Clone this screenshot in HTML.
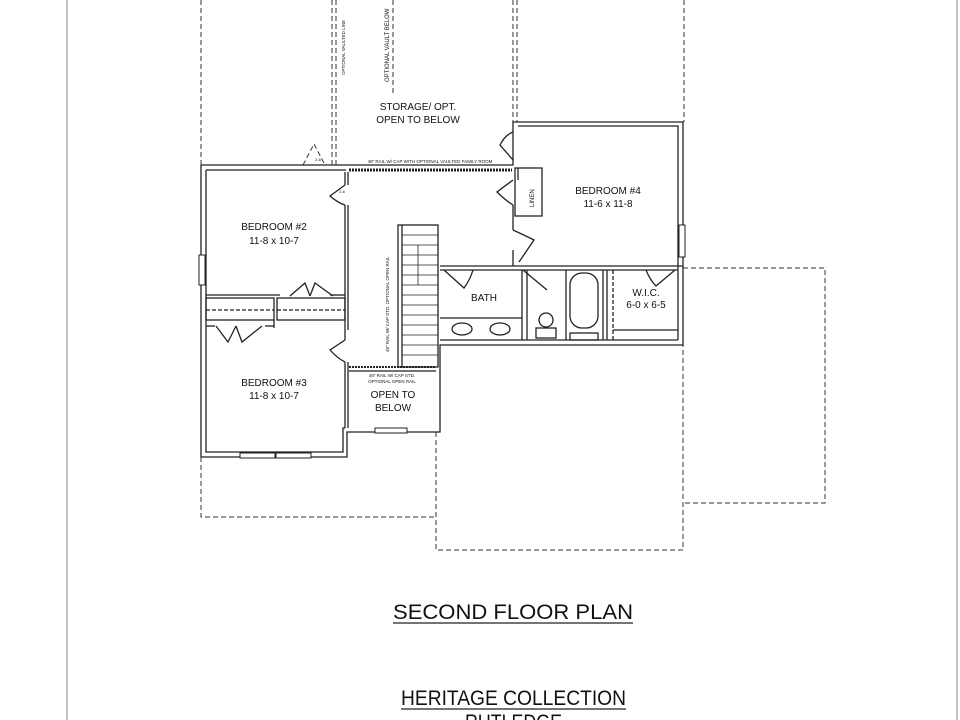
<!DOCTYPE html>
<html><head><meta charset="utf-8"><style>
html,body{margin:0;padding:0;background:#fff;}
svg{display:block;}
text{font-family:"Liberation Sans",sans-serif;fill:#111;}
</style></head><body>
<svg width="960" height="720" viewBox="0 0 960 720" xmlns="http://www.w3.org/2000/svg">
<rect width="960" height="720" fill="#fff"/>
<line x1="67" y1="0" x2="67" y2="720" stroke="#888" stroke-width="1"/>
<line x1="957" y1="0" x2="957" y2="720" stroke="#888" stroke-width="1"/>
<g fill="none" stroke="#333" stroke-width="1" stroke-dasharray="5,3">
<line x1="201" y1="0" x2="201" y2="165"/>
<line x1="332" y1="0" x2="332" y2="165"/>
<line x1="336" y1="0" x2="336" y2="165"/>
<line x1="393" y1="0" x2="393" y2="95"/>
<line x1="513" y1="0" x2="513" y2="122"/>
<line x1="517" y1="0" x2="517" y2="122"/>
<line x1="684" y1="0" x2="684" y2="122"/>
<polyline points="201,457 201,517 436,517"/>
<polyline points="436,432 436,550 683,550 683,345"/>
<polyline points="683,268 825,268 825,503 683,503"/>
<path d="M303,165 L314,144 L325,165"/>
</g>
<g fill="none" stroke="#222" stroke-width="1.3">
<polyline points="201,165 513,165 513,122 683,122 683,345 440,345 440,432 347,432 347,457 201,457 201,165"/>
<polyline points="206,170 346,170"/>
<polyline points="206,170 206,452 343,452 343,428 345,428"/>
<polyline points="518,126 678,126 678,340"/>
<line x1="345" y1="172" x2="345" y2="185"/>
<line x1="345" y1="205" x2="345" y2="330"/>
<line x1="348" y1="172" x2="348" y2="185"/>
<line x1="348" y1="205" x2="348" y2="330"/>
<polyline points="206,295 280,295"/>
<polyline points="330,295 345,295"/>
<rect x="206" y="298" width="68" height="22"/>
<rect x="277" y="298" width="68" height="22"/>
<line x1="206" y1="310" x2="274" y2="310" stroke-dasharray="4,2"/>
<line x1="277" y1="310" x2="345" y2="310" stroke-dasharray="4,2"/>
<polyline points="206,326 215,326"/>
<polyline points="265,326 274,326"/>
<line x1="274" y1="320" x2="274" y2="328"/>
<line x1="345" y1="330" x2="345" y2="340"/>
<line x1="345" y1="362" x2="345" y2="428"/>
<line x1="348" y1="362" x2="348" y2="428"/>
<path d="M290,296 L305,283 L310,296 M310,296 L315,283 L333,296" />
<path d="M216,326 L228,342 L236,326 M236,326 L242,342 L262,326"/>
<path d="M345,185 L330,196 Q338,203 345,205"/>
<path d="M345,340 L330,350 Q337,358 345,362"/>
<line x1="349" y1="170" x2="512" y2="170" stroke-width="3" stroke-dasharray="2,1"/>
<line x1="349" y1="367" x2="436" y2="367" stroke-width="2" stroke-dasharray="2,1"/>
<line x1="349" y1="371" x2="436" y2="371"/>
<rect x="398" y="225" width="40" height="142"/>
<line x1="402" y1="225" x2="402" y2="367"/>
<g stroke-width="0.8">
<line x1="402" y1="235" x2="438" y2="235"/><line x1="402" y1="245" x2="438" y2="245"/>
<line x1="402" y1="255" x2="438" y2="255"/><line x1="402" y1="265" x2="438" y2="265"/>
<line x1="402" y1="275" x2="438" y2="275"/><line x1="402" y1="285" x2="438" y2="285"/>
<line x1="402" y1="295" x2="438" y2="295"/><line x1="402" y1="305" x2="438" y2="305"/>
<line x1="402" y1="315" x2="438" y2="315"/><line x1="402" y1="325" x2="438" y2="325"/>
<line x1="402" y1="335" x2="438" y2="335"/><line x1="402" y1="345" x2="438" y2="345"/>
<line x1="402" y1="355" x2="438" y2="355"/>
<line x1="418" y1="245" x2="418" y2="285"/>
</g>
<rect x="515" y="168" width="27" height="48"/>
<line x1="518" y1="168" x2="518" y2="180"/>
<line x1="513" y1="205" x2="513" y2="230"/>
<line x1="513" y1="250" x2="513" y2="266"/>
<path d="M513,180 L497,192 Q505,200 513,205"/>
<path d="M513,230 Q526,236 534,240 L519,262"/>
<path d="M513,160 L500,145 Q505,135 513,132"/>
<line x1="440" y1="266" x2="683" y2="266"/>
<line x1="440" y1="270" x2="678" y2="270"/>
<path d="M444,270 L464,288 Q470,280 473,270"/>
<line x1="522" y1="270" x2="522" y2="300"/>
<line x1="523" y1="270" x2="547" y2="290"/>
<line x1="440" y1="318" x2="522" y2="318"/>
<line x1="522" y1="300" x2="522" y2="340"/>
<ellipse cx="462" cy="329" rx="10" ry="6"/>
<ellipse cx="500" cy="329" rx="10" ry="6"/>
<line x1="527" y1="270" x2="527" y2="340"/>
<circle cx="546" cy="320" r="7"/>
<rect x="536" y="328" width="20" height="10"/>
<line x1="566" y1="270" x2="566" y2="340"/>
<line x1="603" y1="270" x2="603" y2="340"/>
<rect x="570" y="273" width="28" height="55" rx="12"/>
<rect x="570" y="333" width="28" height="7"/>
<line x1="607" y1="270" x2="607" y2="340"/>
<line x1="613" y1="270" x2="613" y2="340" stroke-dasharray="4,2"/>
<line x1="613" y1="330" x2="678" y2="330"/>
<path d="M646,270 Q650,280 656,286 L675,270"/>
<line x1="440" y1="340" x2="678" y2="340"/>
</g>
<g fill="#fff" stroke="#222" stroke-width="1">
<rect x="199" y="255" width="6" height="30"/>
<rect x="679" y="225" width="6" height="32"/>
<rect x="240" y="453" width="35" height="5"/>
<rect x="276" y="453" width="35" height="5"/>
<rect x="375" y="428" width="32" height="5"/>
</g>
<g text-anchor="middle">
<text x="418" y="110" font-size="10">STORAGE/ OPT.</text>
<text x="418" y="123" font-size="10">OPEN TO BELOW</text>
<text x="608" y="194" font-size="10">BEDROOM #4</text>
<text x="608" y="207" font-size="10">11-6 x 11-8</text>
<text x="274" y="230" font-size="10">BEDROOM #2</text>
<text x="274" y="244" font-size="10">11-8 x 10-7</text>
<text x="274" y="386" font-size="10">BEDROOM #3</text>
<text x="274" y="399" font-size="10">11-8 x 10-7</text>
<text x="484" y="301" font-size="10">BATH</text>
<text x="646" y="296" font-size="10">W.I.C.</text>
<text x="646" y="308" font-size="10">6-0 x 6-5</text>
<text x="393" y="398" font-size="10">OPEN TO</text>
<text x="393" y="411" font-size="10">BELOW</text>
<text x="392" y="377" font-size="4.5">48" RAIL W/ CAP STD.</text>
<text x="392" y="383" font-size="4.5">OPTIONAL OPEN RAIL</text>
<text x="430" y="163" font-size="4.5">48" RAIL W/ CAP WITH OPTIONAL VAULTED FAMILY ROOM</text>
<text x="318" y="161" font-size="4">2-6</text>
<text x="342" y="193" font-size="4">2-6</text>
</g>
<text x="393" y="619" font-size="21" textLength="240" lengthAdjust="spacingAndGlyphs">SECOND FLOOR PLAN</text>
<text x="401" y="705" font-size="21" textLength="225" lengthAdjust="spacingAndGlyphs">HERITAGE COLLECTION</text>
<text x="465" y="729" font-size="21" textLength="97" lengthAdjust="spacingAndGlyphs">RUTLEDGE</text>
<line x1="393" y1="623" x2="633" y2="623" stroke="#222" stroke-width="1.2"/>
<line x1="401" y1="709" x2="626" y2="709" stroke="#222" stroke-width="1.2"/>
<text transform="translate(345,75) rotate(-90)" font-size="4.5">OPTIONAL VAULTED LINE</text>
<text transform="translate(389,82) rotate(-90)" font-size="6">OPTIONAL VAULT BELOW</text>
<text transform="translate(389,352) rotate(-90)" font-size="4.5">48" RAIL W/ CAP STD. OPTIONAL OPEN RAIL</text>
<text transform="translate(534,207) rotate(-90)" font-size="6">LINEN</text>
</svg>
</body></html>
